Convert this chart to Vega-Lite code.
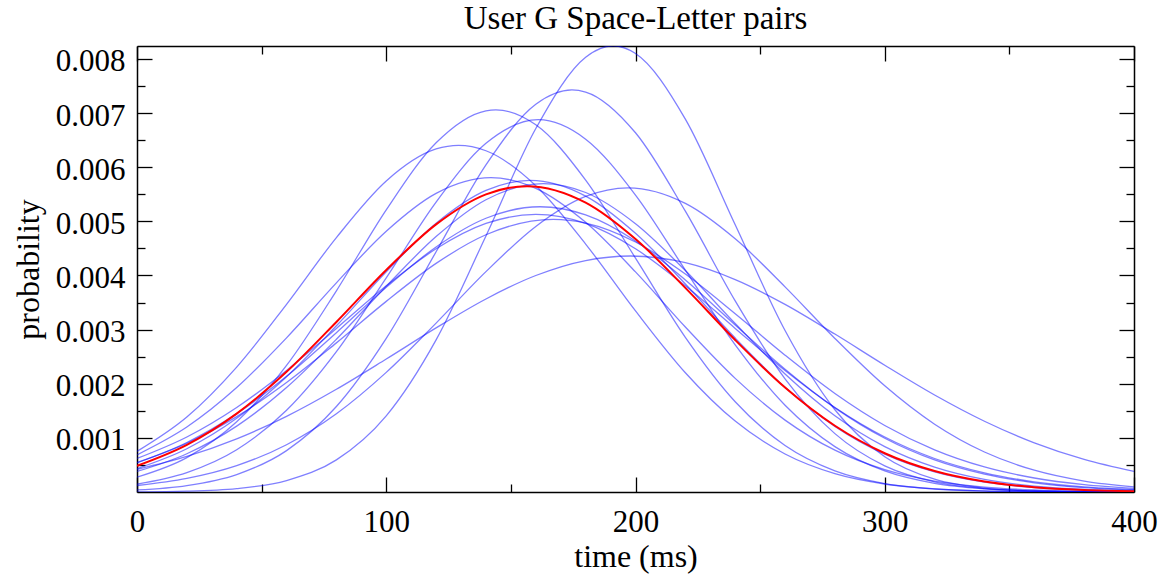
{
"$schema": "https://vega.github.io/schema/vega-lite/v6.json",
"width": 997, "height": 446,
"autosize": {"type": "none"},
"padding": {"left": 137, "top": 46, "right": 28, "bottom": 84},
"background": "white",
"title": {"text": "User G Space-Letter pairs", "font": "Liberation Serif", "fontSize": 33, "fontWeight": "normal", "color": "black", "baseline": "alphabetic", "offset": 16, "dy": 33},
"config": {"view": {"stroke": null}, "axis": {"labelFont": "Liberation Serif", "titleFont": "Liberation Serif", "labelColor": "black", "titleColor": "black", "domainColor": "black", "tickColor": "black", "grid": false, "domainWidth": 1.5, "tickWidth": 1.3, "labelFontSize": 31, "titleFontSize": 32, "titleFontWeight": "normal", "labelOverlap": false, "labelFlush": false}},
"data": {"values": [
{"s":"A","t":0,"p":0.0000034},{"s":"A","t":20,"p":0.0000161},{"s":"A","t":40,"p":0.0000634},{"s":"A","t":60,"p":0.0002115},{"s":"A","t":80,"p":0.0005942},{"s":"A","t":100,"p":0.0014076},{"s":"A","t":120,"p":0.002811},{"s":"A","t":140,"p":0.004731},{"s":"A","t":160,"p":0.006715},{"s":"A","t":180,"p":0.008033},{"s":"A","t":191,"p":0.008243},{"s":"A","t":200,"p":0.008102},{"s":"A","t":220,"p":0.006889},{"s":"A","t":240,"p":0.004938},{"s":"A","t":260,"p":0.002984},{"s":"A","t":280,"p":0.00152},{"s":"A","t":300,"p":0.0006527},{"s":"A","t":320,"p":0.0002363},{"s":"A","t":340,"p":0.0000721},{"s":"A","t":360,"p":0.0000186},{"s":"A","t":380,"p":0.000004},{"s":"A","t":400,"p":0.0000007},
{"s":"B","t":0,"p":0.0000378},{"s":"B","t":20,"p":0.0001184},{"s":"B","t":40,"p":0.0003226},{"s":"B","t":60,"p":0.000765},{"s":"B","t":80,"p":0.0015793},{"s":"B","t":100,"p":0.002838},{"s":"B","t":120,"p":0.0044388},{"s":"B","t":140,"p":0.0060434},{"s":"B","t":160,"p":0.007163},{"s":"B","t":174.5,"p":0.007429},{"s":"B","t":180,"p":0.0073901},{"s":"B","t":200,"p":0.0066369},{"s":"B","t":220,"p":0.0051883},{"s":"B","t":240,"p":0.0035308},{"s":"B","t":260,"p":0.0020915},{"s":"B","t":280,"p":0.0010785},{"s":"B","t":300,"p":0.0004841},{"s":"B","t":320,"p":0.0001891},{"s":"B","t":340,"p":0.0000643},{"s":"B","t":360,"p":0.000019},{"s":"B","t":380,"p":0.0000049},{"s":"B","t":400,"p":0.0000011},
{"s":"C","t":0,"p":0.0002744},{"s":"C","t":20,"p":0.0006353},{"s":"C","t":40,"p":0.0012975},{"s":"C","t":60,"p":0.0023384},{"s":"C","t":80,"p":0.0037175},{"s":"C","t":100,"p":0.005214},{"s":"C","t":120,"p":0.0064519},{"s":"C","t":140,"p":0.0070433},{"s":"C","t":144,"p":0.007061},{"s":"C","t":160,"p":0.0067835},{"s":"C","t":180,"p":0.0057638},{"s":"C","t":200,"p":0.0043206},{"s":"C","t":220,"p":0.0028574},{"s":"C","t":240,"p":0.0016671},{"s":"C","t":260,"p":0.0008581},{"s":"C","t":280,"p":0.0003897},{"s":"C","t":300,"p":0.0001561},{"s":"C","t":320,"p":0.0000552},{"s":"C","t":340,"p":0.0000172},{"s":"C","t":360,"p":0.0000047},{"s":"C","t":380,"p":0.0000012},{"s":"C","t":400,"p":0.0000002},
{"s":"D","t":0,"p":0.000146},{"s":"D","t":20,"p":0.0003582},{"s":"D","t":40,"p":0.0007805},{"s":"D","t":60,"p":0.0015101},{"s":"D","t":80,"p":0.0025939},{"s":"D","t":100,"p":0.0039562},{"s":"D","t":120,"p":0.0053574},{"s":"D","t":140,"p":0.0064416},{"s":"D","t":161,"p":0.006878},{"s":"D","t":180,"p":0.0065187},{"s":"D","t":200,"p":0.0054863},{"s":"D","t":220,"p":0.0040998},{"s":"D","t":240,"p":0.0027202},{"s":"D","t":260,"p":0.0016025},{"s":"D","t":280,"p":0.0008382},{"s":"D","t":300,"p":0.0003893},{"s":"D","t":320,"p":0.0001605},{"s":"D","t":340,"p":0.0000588},{"s":"D","t":360,"p":0.0000191},{"s":"D","t":380,"p":0.0000055},{"s":"D","t":400,"p":0.0000014},
{"s":"E","t":0,"p":0.0007507},{"s":"E","t":20,"p":0.001386},{"s":"E","t":40,"p":0.0023083},{"s":"E","t":60,"p":0.003468},{"s":"E","t":80,"p":0.0047003},{"s":"E","t":100,"p":0.0057464},{"s":"E","t":120,"p":0.0063375},{"s":"E","t":129,"p":0.006404},{"s":"E","t":140,"p":0.0063049},{"s":"E","t":160,"p":0.0056583},{"s":"E","t":180,"p":0.0045807},{"s":"E","t":200,"p":0.0033453},{"s":"E","t":220,"p":0.0022037},{"s":"E","t":240,"p":0.0013096},{"s":"E","t":260,"p":0.000702},{"s":"E","t":280,"p":0.0003395},{"s":"E","t":300,"p":0.0001481},{"s":"E","t":320,"p":0.0000583},{"s":"E","t":340,"p":0.0000207},{"s":"E","t":360,"p":0.0000066},{"s":"E","t":380,"p":0.0000019},{"s":"E","t":400,"p":0.0000005},
{"s":"F","t":0,"p":0.0006859},{"s":"F","t":20,"p":0.0011999},{"s":"F","t":40,"p":0.0019287},{"s":"F","t":60,"p":0.0028483},{"s":"F","t":80,"p":0.0038645},{"s":"F","t":100,"p":0.0048171},{"s":"F","t":120,"p":0.0055168},{"s":"F","t":142,"p":0.005807},{"s":"F","t":160,"p":0.0056111},{"s":"F","t":180,"p":0.0049832},{"s":"F","t":200,"p":0.0040661},{"s":"F","t":220,"p":0.0030482},{"s":"F","t":240,"p":0.0020993},{"s":"F","t":260,"p":0.0013284},{"s":"F","t":280,"p":0.0007723},{"s":"F","t":300,"p":0.0004125},{"s":"F","t":320,"p":0.0002024},{"s":"F","t":340,"p":0.0000913},{"s":"F","t":360,"p":0.0000378},{"s":"F","t":380,"p":0.0000144},{"s":"F","t":400,"p":0.000005},
{"s":"G","t":0,"p":0.0001197},{"s":"G","t":20,"p":0.0002513},{"s":"G","t":40,"p":0.0004874},{"s":"G","t":60,"p":0.0008733},{"s":"G","t":80,"p":0.0014454},{"s":"G","t":100,"p":0.0022098},{"s":"G","t":120,"p":0.0031207},{"s":"G","t":140,"p":0.004071},{"s":"G","t":160,"p":0.0049056},{"s":"G","t":180,"p":0.0054602},{"s":"G","t":197,"p":0.005619},{"s":"G","t":220,"p":0.0053318},{"s":"G","t":240,"p":0.0046775},{"s":"G","t":260,"p":0.0037905},{"s":"G","t":280,"p":0.0028373},{"s":"G","t":300,"p":0.0019618},{"s":"G","t":320,"p":0.001253},{"s":"G","t":340,"p":0.0007392},{"s":"G","t":360,"p":0.0004029},{"s":"G","t":380,"p":0.0002028},{"s":"G","t":400,"p":0.0000943},
{"s":"H","t":0,"p":0.0004194},{"s":"H","t":20,"p":0.0006572},{"s":"H","t":40,"p":0.0009818},{"s":"H","t":60,"p":0.0013981},{"s":"H","t":80,"p":0.0018983},{"s":"H","t":100,"p":0.0024569},{"s":"H","t":120,"p":0.0030317},{"s":"H","t":140,"p":0.0035665},{"s":"H","t":160,"p":0.0039998},{"s":"H","t":180,"p":0.0042764},{"s":"H","t":198,"p":0.00436},{"s":"H","t":220,"p":0.0042358},{"s":"H","t":240,"p":0.003924},{"s":"H","t":260,"p":0.0034656},{"s":"H","t":280,"p":0.002918},{"s":"H","t":300,"p":0.0023423},{"s":"H","t":320,"p":0.0017924},{"s":"H","t":340,"p":0.0013077},{"s":"H","t":360,"p":0.0009095},{"s":"H","t":380,"p":0.0006031},{"s":"H","t":400,"p":0.0003812},
{"s":"I","t":0,"p":0.0004322},{"s":"I","t":20,"p":0.0007995},{"s":"I","t":40,"p":0.0013608},{"s":"I","t":60,"p":0.0021311},{"s":"I","t":80,"p":0.0030706},{"s":"I","t":100,"p":0.0040706},{"s":"I","t":120,"p":0.0049652},{"s":"I","t":140,"p":0.0055723},{"s":"I","t":157.7,"p":0.005757},{"s":"I","t":180,"p":0.0054665},{"s":"I","t":200,"p":0.0047785},{"s":"I","t":220,"p":0.0038433},{"s":"I","t":240,"p":0.0028441},{"s":"I","t":260,"p":0.0019364},{"s":"I","t":280,"p":0.0012131},{"s":"I","t":300,"p":0.0006992},{"s":"I","t":320,"p":0.0003708},{"s":"I","t":340,"p":0.0001809},{"s":"I","t":360,"p":0.0000812},{"s":"I","t":380,"p":0.0000336},{"s":"I","t":400,"p":0.0000128},
{"s":"J","t":0,"p":0.0003788},{"s":"J","t":20,"p":0.0007073},{"s":"J","t":40,"p":0.0012171},{"s":"J","t":60,"p":0.0019304},{"s":"J","t":80,"p":0.0028217},{"s":"J","t":100,"p":0.0038011},{"s":"J","t":120,"p":0.0047191},{"s":"J","t":140,"p":0.0053995},{"s":"J","t":163,"p":0.005699},{"s":"J","t":180,"p":0.0055334},{"s":"J","t":200,"p":0.004956},{"s":"J","t":220,"p":0.0040909},{"s":"J","t":240,"p":0.003112},{"s":"J","t":260,"p":0.0021819},{"s":"J","t":280,"p":0.0014098},{"s":"J","t":300,"p":0.0008395},{"s":"J","t":320,"p":0.0004607},{"s":"J","t":340,"p":0.000233},{"s":"J","t":360,"p":0.0001086},{"s":"J","t":380,"p":0.0000467},{"s":"J","t":400,"p":0.0000185},
{"s":"K","t":0,"p":0.0005383},{"s":"K","t":20,"p":0.000914},{"s":"K","t":40,"p":0.0014474},{"s":"K","t":60,"p":0.0021374},{"s":"K","t":80,"p":0.0029436},{"s":"K","t":100,"p":0.0037805},{"s":"K","t":120,"p":0.0045281},{"s":"K","t":140,"p":0.0050579},{"s":"K","t":161.7,"p":0.00527},{"s":"K","t":180,"p":0.0051182},{"s":"K","t":200,"p":0.0046369},{"s":"K","t":220,"p":0.0039176},{"s":"K","t":240,"p":0.0030866},{"s":"K","t":260,"p":0.0022681},{"s":"K","t":280,"p":0.0015542},{"s":"K","t":300,"p":0.0009932},{"s":"K","t":320,"p":0.0005919},{"s":"K","t":340,"p":0.000329},{"s":"K","t":360,"p":0.0001705},{"s":"K","t":380,"p":0.0000824},{"s":"K","t":400,"p":0.0000372},
{"s":"L","t":0,"p":0.0006188},{"s":"L","t":20,"p":0.0010158},{"s":"L","t":40,"p":0.0015608},{"s":"L","t":60,"p":0.0022449},{"s":"L","t":80,"p":0.0030223},{"s":"L","t":100,"p":0.0038089},{"s":"L","t":120,"p":0.0044931},{"s":"L","t":140,"p":0.0049613},{"s":"L","t":160,"p":0.005128},{"s":"L","t":180,"p":0.0049613},{"s":"L","t":200,"p":0.0044931},{"s":"L","t":220,"p":0.0038089},{"s":"L","t":240,"p":0.0030223},{"s":"L","t":260,"p":0.0022449},{"s":"L","t":280,"p":0.0015608},{"s":"L","t":300,"p":0.0010158},{"s":"L","t":320,"p":0.0006188},{"s":"L","t":340,"p":0.0003529},{"s":"L","t":360,"p":0.0001883},{"s":"L","t":380,"p":0.0000941},{"s":"L","t":400,"p":0.000044},
{"s":"M","t":0,"p":0.0005454},{"s":"M","t":20,"p":0.0008997},{"s":"M","t":40,"p":0.0013925},{"s":"M","t":60,"p":0.0020222},{"s":"M","t":80,"p":0.0027551},{"s":"M","t":100,"p":0.0035219},{"s":"M","t":120,"p":0.0042238},{"s":"M","t":140,"p":0.0047526},{"s":"M","t":167,"p":0.005037},{"s":"M","t":180,"p":0.0049696},{"s":"M","t":200,"p":0.0046182},{"s":"M","t":220,"p":0.0040265},{"s":"M","t":240,"p":0.0032937},{"s":"M","t":260,"p":0.0025279},{"s":"M","t":280,"p":0.0018203},{"s":"M","t":300,"p":0.0012297},{"s":"M","t":320,"p":0.0007795},{"s":"M","t":340,"p":0.0004635},{"s":"M","t":360,"p":0.0002586},{"s":"M","t":380,"p":0.0001354},{"s":"M","t":400,"p":0.0000665},
{"s":"R","t":0,"p":0.0004843},{"s":"R","t":20,"p":0.0008718},{"s":"R","t":40,"p":0.0014482},{"s":"R","t":60,"p":0.0022204},{"s":"R","t":80,"p":0.0031417},{"s":"R","t":100,"p":0.0041025},{"s":"R","t":120,"p":0.0049441},{"s":"R","t":140,"p":0.0054988},{"s":"R","t":156.5,"p":0.005651},{"s":"R","t":180,"p":0.0053465},{"s":"R","t":200,"p":0.004674},{"s":"R","t":220,"p":0.003771},{"s":"R","t":240,"p":0.0028079},{"s":"R","t":260,"p":0.0019295},{"s":"R","t":280,"p":0.0012236},{"s":"R","t":300,"p":0.0007162},{"s":"R","t":320,"p":0.0003868},{"s":"R","t":340,"p":0.0001928},{"s":"R","t":360,"p":0.0000887},{"s":"R","t":380,"p":0.0000377},{"s":"R","t":400,"p":0.0000148}
]},
"layer": [
{"transform": [{"filter": "datum.s !== 'R'"}],
 "mark": {"type": "line", "interpolate": "monotone", "color": "#0000ff", "opacity": 0.5, "strokeWidth": 1.3, "clip": true},
 "encoding": {
  "x": {"field": "t", "type": "quantitative", "scale": {"domain": [0, 400], "nice": false}, "axis": {"orient": "bottom", "values": [0, 100, 200, 300, 400], "format": "d", "ticks": false, "domain": false, "labelPadding": 15, "title": "time (ms)", "titleX": 498.5, "titleY": 74, "titleBaseline": "alphabetic"}},
  "y": {"field": "p", "type": "quantitative", "scale": {"domain": [0, 0.00824], "nice": false, "zero": false}, "axis": {"orient": "left", "values": [0.001, 0.002, 0.003, 0.004, 0.005, 0.006, 0.007, 0.008], "format": ".3f", "ticks": false, "domain": false, "labelPadding": 12, "labelOffset": 3, "title": "probability", "titleX": -99, "titleY": 223, "titleBaseline": "alphabetic"}},
  "detail": {"field": "s"}}},
{"transform": [{"filter": "datum.s === 'R'"}],
 "mark": {"type": "line", "interpolate": "monotone", "color": "#ff0000", "strokeWidth": 2, "clip": true},
 "encoding": {
  "x": {"field": "t", "type": "quantitative", "axis": {"orient": "bottom", "values": [0, 100, 200, 300, 400], "labels": false, "tickSize": -15, "title": null}},
  "y": {"field": "p", "type": "quantitative", "axis": {"orient": "left", "values": [0.001, 0.002, 0.003, 0.004, 0.005, 0.006, 0.007, 0.008], "labels": false, "tickSize": -15, "title": null}}}},
{"transform": [{"filter": "datum.s === 'R'"}],
 "mark": {"type": "line", "opacity": 0},
 "encoding": {
  "x": {"field": "t", "type": "quantitative", "axis": {"orient": "bottom", "values": [50, 150, 250, 350], "labels": false, "domain": false, "tickSize": -8, "title": null}},
  "y": {"field": "p", "type": "quantitative", "axis": {"orient": "left", "values": [0.0005, 0.0015, 0.0025, 0.0035, 0.0045, 0.0055, 0.0065, 0.0075], "labels": false, "domain": false, "tickSize": -8, "title": null}}}},
{"transform": [{"filter": "datum.s === 'R'"}],
 "mark": {"type": "line", "opacity": 0},
 "encoding": {
  "x": {"field": "t", "type": "quantitative", "axis": {"orient": "top", "values": [0, 100, 200, 300, 400], "labels": false, "tickSize": -15, "title": null}},
  "y": {"field": "p", "type": "quantitative", "axis": {"orient": "right", "values": [0.001, 0.002, 0.003, 0.004, 0.005, 0.006, 0.007, 0.008], "labels": false, "tickSize": -15, "title": null}}}},
{"transform": [{"filter": "datum.s === 'R'"}],
 "mark": {"type": "line", "opacity": 0},
 "encoding": {
  "x": {"field": "t", "type": "quantitative", "axis": {"orient": "top", "values": [50, 150, 250, 350], "labels": false, "domain": false, "tickSize": -8, "title": null}},
  "y": {"field": "p", "type": "quantitative", "axis": {"orient": "right", "values": [0.0005, 0.0015, 0.0025, 0.0035, 0.0045, 0.0055, 0.0065, 0.0075], "labels": false, "domain": false, "tickSize": -8, "title": null}}}}
],
"resolve": {"axis": {"x": "independent", "y": "independent"}}
}
